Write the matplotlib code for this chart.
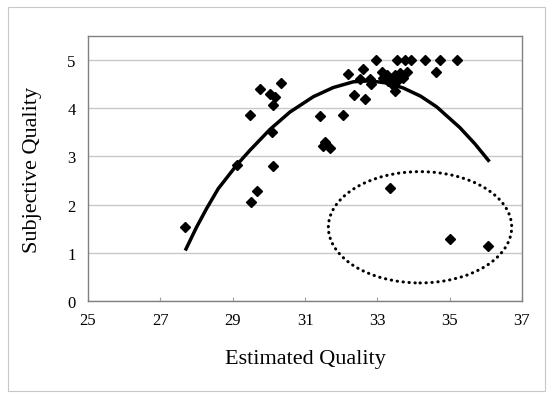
import matplotlib
matplotlib.use('Agg')
import matplotlib.pyplot as plt
from matplotlib.patches import Ellipse, Rectangle

# scatter points
est_quality = [27.68, 29.11, 30.12, 29.66, 29.50, 29.48, 29.76, 30.34, 30.03,
               30.17, 30.11, 30.08, 31.41, 32.06, 31.55, 31.49, 31.69, 32.20,
               32.60, 32.35, 32.65, 32.52, 32.80, 32.82, 32.95, 33.53, 33.76,
               33.92, 34.32, 34.73, 35.21, 34.61, 33.12, 33.26, 33.16, 33.35,
               33.49, 33.63, 33.81, 33.72, 33.53, 33.44, 33.30, 33.49, 33.35,
               35.00, 36.07]
subj_quality = [1.53, 2.82, 2.80, 2.28, 2.06, 3.86, 4.40, 4.52, 4.30,
                4.23, 4.07, 3.51, 3.83, 3.86, 3.31, 3.22, 3.17, 4.72,
                4.82, 4.28, 4.19, 4.61, 4.61, 4.50, 5.00, 5.00, 5.00,
                5.00, 5.00, 5.00, 5.00, 4.76, 4.76, 4.69, 4.63, 4.59,
                4.69, 4.73, 4.75, 4.63, 4.56, 4.49, 4.56, 4.36, 2.35,
                1.28, 1.15]

# trend curve, points
trend_x = [27.71, 28.00, 28.28, 28.60, 29.11, 29.48, 30.03, 30.58, 31.23,
           31.78, 32.34, 32.80, 33.30, 33.72, 34.20, 34.64, 35.28, 35.70, 36.07]
trend_y = [1.08, 1.53, 1.92, 2.33, 2.82, 3.13, 3.56, 3.92, 4.24,
           4.43, 4.55, 4.57, 4.52, 4.42, 4.25, 4.03, 3.60, 3.26, 2.92]

x_ticks = [25, 27, 29, 31, 33, 35, 37]
y_ticks = [0, 1, 2, 3, 4, 5]

plt.rcParams['font.family'] = 'Liberation Serif'

fig = plt.figure(figsize=(5.53, 4.02), dpi=100)
fig.patches.append(Rectangle((8 / 553, 1 - 392 / 402), 537 / 553, 384 / 402,
                             transform=fig.transFigure, fill=False,
                             edgecolor='#c8c8c8', linewidth=0.8))

ax = fig.add_axes([88 / 553, 1 - 302 / 402, 434 / 553, 265 / 402])

ax.plot(trend_x, trend_y, color='black', linewidth=2.5, zorder=3,
        solid_joinstyle='round')
ax.plot(est_quality, subj_quality, linestyle='none', marker='D',
        markersize=5.2, color='black', zorder=4)

# dotted ellipse around the outliers
ax.add_patch(Ellipse((34.18, 1.53), 5.07, 2.31, fill=False, edgecolor='black',
                     linewidth=2.2, linestyle=(0, (0.1, 1.85)),
                     capstyle='round', zorder=3))

ax.set_xlim(25, 37)
ax.set_ylim(0, 5.5)
ax.set_xticks(x_ticks)
ax.set_yticks(y_ticks)
ax.yaxis.grid(True, color='#c8c8c8', linewidth=1)
ax.set_axisbelow(True)
for s in ax.spines.values():
    s.set_color('#808080')
    s.set_linewidth(1)
ax.tick_params(axis='x', direction='in', length=3, color='#a0a0a0',
               labelsize=12, pad=8)
ax.tick_params(axis='y', length=0, labelsize=12, pad=9)

ax.set_xlabel('Estimated Quality', fontsize=16, labelpad=15)
ax.set_ylabel('Subjective Quality', fontsize=16, labelpad=18)

fig.savefig('out.png', dpi=100)
